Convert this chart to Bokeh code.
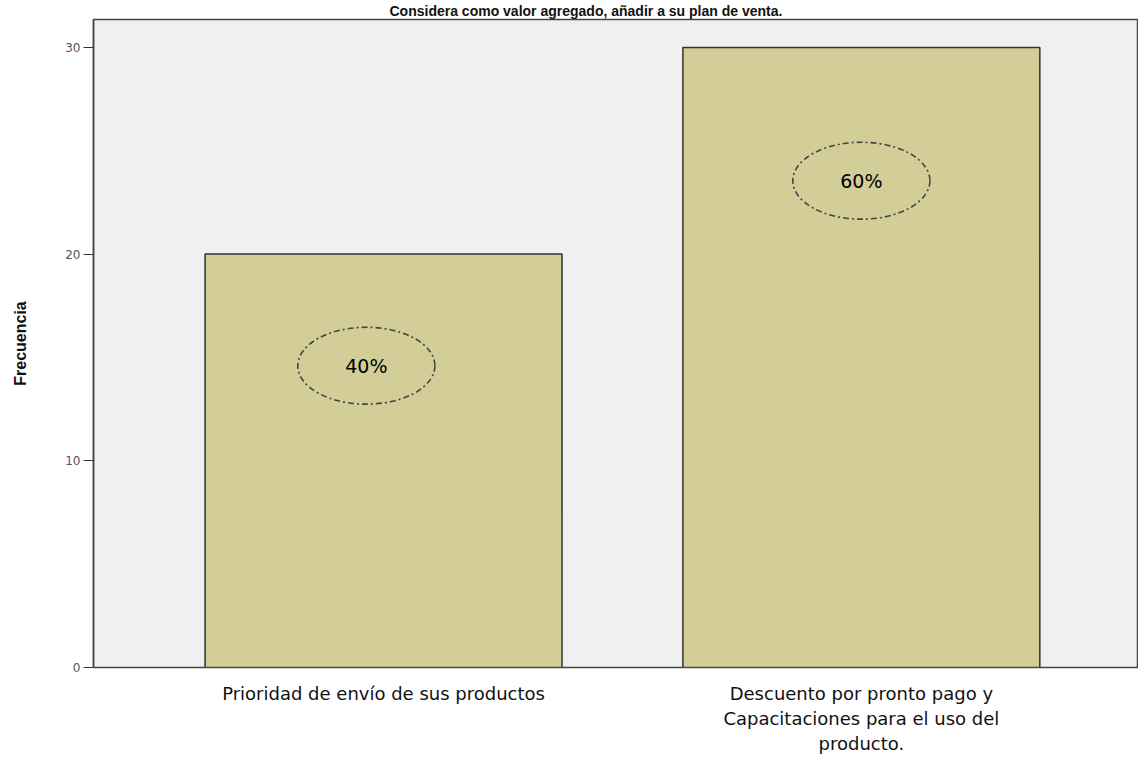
from bokeh.plotting import figure
from bokeh.models import Range1d, FixedTicker
from bokeh.core.properties import value
from bokeh.embed import file_html
from bokeh.resources import INLINE

# ---- data ----
categories = ["Prioridad de envío de sus productos",
              "Descuento por pronto pago y\nCapacitaciones para el uso del\nproducto."]
positions = [1, 2]
frequencies = [20, 30]
percent_labels = ["40%", "60%"]
label_x = [0.964, 2.0]
label_y = [14.6, 23.55]
y_ticks = [0, 10, 20, 30]
title_text = "Considera como valor agregado, añadir a su plan de venta."
y_title = "Frecuencia"

p = figure(width=1138, height=763, output_backend="svg", toolbar_location=None,
           x_range=Range1d(0.393, 2.58), y_range=Range1d(0, 31.35),
           min_border_left=93, min_border_right=0, min_border_top=0, min_border_bottom=96,
           title=title_text)

p.title.align = "left"
p.title.offset = 296
p.title.standoff = 1
p.title.text_font = "Liberation Sans"
p.title.text_font_style = "bold"
p.title.text_font_size = "14px"
p.title.text_color = "#111111"

p.background_fill_color = "#F0F0F0"
p.border_fill_color = "white"
p.outline_line_color = "#444444"
p.outline_line_width = 1.5
p.grid.visible = False

xa = p.xaxis[0]
xa.ticker = FixedTicker(ticks=positions)
xa.major_label_overrides = {pos: cat for pos, cat in zip(positions, categories)}
xa.major_tick_line_color = None
xa.minor_tick_line_color = None
xa.axis_line_color = None
xa.major_label_standoff = 9
xa.major_label_text_font = "DejaVu Sans"
xa.major_label_text_font_size = "18px"
xa.major_label_text_color = "#111111"

ya = p.yaxis[0]
ya.ticker = FixedTicker(ticks=y_ticks)
ya.minor_tick_line_color = None
ya.major_tick_out = 10
ya.major_tick_in = 0
ya.major_tick_line_color = "#333333"
ya.axis_line_color = "#444444"
ya.axis_line_width = 1.5
ya.major_label_text_color = "#555555"
ya.major_label_text_font = "DejaVu Sans"
ya.major_label_text_font_size = "12px"
ya.major_label_standoff = 3
ya.axis_label = y_title
ya.axis_label_text_font = "Liberation Sans"
ya.axis_label_text_font_style = "bold"
ya.axis_label_text_font_size = "16px"
ya.axis_label_text_color = "#111111"
ya.axis_label_standoff = 33

p.vbar(x=positions, top=frequencies, width=0.747, fill_color="#D3CE98",
       line_color="#333333", line_width=1.5)

p.ellipse(x=label_x, y=label_y, width=0.287, height=3.72, fill_color=None,
          line_color="#444444", line_width=1.6, line_dash="6 3 2 3")
p.text(x=label_x, y=label_y, text=percent_labels, text_align="center",
       text_baseline="middle", text_font=value("DejaVu Sans"),
       text_font_size="19px", text_color="#000000")

open("out.html", "w").write(file_html(p, INLINE))
